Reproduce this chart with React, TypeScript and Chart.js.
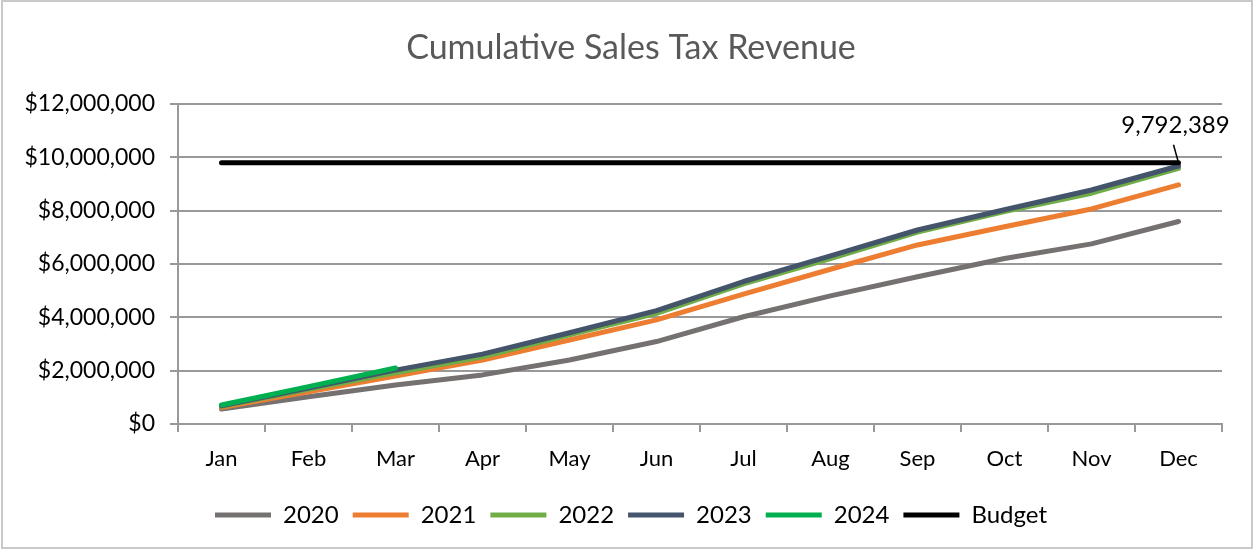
import React, { useEffect, useRef } from 'react';
import { Chart, registerables } from 'chart.js';

Chart.register(...registerables);

const months = ['Jan', 'Feb', 'Mar', 'Apr', 'May', 'Jun', 'Jul', 'Aug', 'Sep', 'Oct', 'Nov', 'Dec'];
const rev2020 = [560000, 1020000, 1460000, 1840000, 2400000, 3090000, 4020000, 4800000, 5520000, 6200000, 6750000, 7590000];
const rev2021 = [620000, 1210000, 1800000, 2400000, 3150000, 3900000, 4870000, 5800000, 6710000, 7390000, 8060000, 8960000];
const rev2022 = [660000, 1300000, 1920000, 2520000, 3340000, 4150000, 5250000, 6200000, 7190000, 7960000, 8650000, 9580000];
const rev2023 = [680000, 1350000, 2020000, 2620000, 3420000, 4250000, 5340000, 6300000, 7270000, 8030000, 8770000, 9670000];
const rev2024 = [710000, 1400000, 2100000, null, null, null, null, null, null, null, null, null];
const budgetValue = 9792389;
const budget = [9792389, 9792389, 9792389, 9792389, 9792389, 9792389, 9792389, 9792389, 9792389, 9792389, 9792389, 9792389];
const yTicks = [0, 2000000, 4000000, 6000000, 8000000, 10000000, 12000000];

const FONT = 'Lato';

const framePlugin = {
  id: 'frame',
  beforeDraw(chart: any) {
    const ctx = chart.ctx;
    ctx.save();
    ctx.fillStyle = '#ffffff';
    ctx.fillRect(0, 0, chart.width, chart.height);
    ctx.restore();
  },
  afterLayout(chart: any) {
    // let the y tick labels use the full left margin (avoid label clipping)
    const y = chart.scales.y;
    if (y) {
      y.left = 0;
      y.width = y.right;
    }
  },
  afterDraw(chart: any) {
    const ctx = chart.ctx;
    ctx.save();
    ctx.strokeStyle = '#C9C9C9';
    ctx.lineWidth = 2;
    ctx.strokeRect(2, 1, chart.width - 4, chart.height - 3);
    ctx.restore();
  },
};

const budgetLabelPlugin = {
  id: 'budgetLabel',
  afterDatasetsDraw(chart: any) {
    const idx = chart.data.datasets.findIndex((d: any) => d.label === 'Budget');
    if (idx < 0) return;
    const meta = chart.getDatasetMeta(idx);
    const pt = meta.data[meta.data.length - 1];
    if (!pt) return;
    const ctx = chart.ctx;
    ctx.save();
    ctx.strokeStyle = '#000';
    ctx.lineWidth = 1.5;
    ctx.beginPath();
    ctx.moveTo(pt.x - 5, pt.y - 18);
    ctx.lineTo(pt.x, pt.y);
    ctx.stroke();
    ctx.font = `24px ${FONT}`;
    ctx.fillStyle = '#000';
    ctx.textAlign = 'center';
    ctx.textBaseline = 'middle';
    ctx.fillText(budgetValue.toLocaleString('en-US'), pt.x - 3, pt.y - 37);
    ctx.restore();
  },
};

export default function App() {
  const canvasRef = useRef<HTMLCanvasElement | null>(null);

  useEffect(() => {
    let chart: Chart | null = null;
    let cancelled = false;
    const build = () => {
      if (cancelled || !canvasRef.current) return;
      const line = (label: string, data: any[], color: string, order: number) => ({
        label,
        data,
        borderColor: color,
        backgroundColor: color,
        borderWidth: 5,
        borderCapStyle: 'round',
        borderJoinStyle: 'round',
        pointRadius: 0,
        pointHoverRadius: 0,
        tension: 0,
        fill: false,
        order,
      });
      chart = new Chart(canvasRef.current, {
        type: 'line',
        data: {
          labels: months,
          datasets: [
            line('2020', rev2020, '#767171', 5),
            line('2021', rev2021, '#ED7D31', 4),
            line('2022', rev2022, '#70AD47', 3),
            line('2023', rev2023, '#44546A', 2),
            line('2024', rev2024, '#00B050', 1),
            line('Budget', budget, '#000000', 0),
          ] as any,
        },
        options: {
          responsive: false,
          animation: false,
          layout: { padding: { left: 40, right: 32, top: 0, bottom: 13 } },
          plugins: {
            title: {
              display: true,
              text: 'Cumulative Sales Tax Revenue',
              color: '#595959',
              font: { family: FONT, size: 34, weight: 'normal' },
              padding: { top: 28, bottom: 35 },
            },
            legend: {
              position: 'bottom',
              labels: {
                font: { family: FONT, size: 24 },
                color: '#000',
                boxWidth: 56,
                boxHeight: 5,
                padding: 14,
                generateLabels: (c: any) =>
                  c.data.datasets.map((ds: any, i: number) => ({
                    text: ds.label,
                    fillStyle: ds.borderColor,
                    strokeStyle: ds.borderColor,
                    lineWidth: 0,
                    hidden: false,
                    datasetIndex: i,
                    fontColor: '#000',
                  })),
              },
            },
            tooltip: { enabled: false },
          },
          scales: {
            x: {
              type: 'category',
              offset: true,
              afterFit: (s: any) => {
                s.height = 65;
              },
              grid: {
                offset: true,
                drawOnChartArea: false,
                drawTicks: true,
                tickLength: 8,
                color: '#999999',
                lineWidth: 2,
              },
              border: { display: true, color: '#999999', width: 2 },
              ticks: {
                font: { family: FONT, size: 22 },
                color: '#000',
                padding: 14,
                maxRotation: 0,
                autoSkip: false,
              },
            },
            y: {
              min: 0,
              max: 12000000,
              afterFit: (s: any) => {
                s.width = 138;
              },
              afterBuildTicks: (s: any) => {
                s.ticks = yTicks.map((v) => ({ value: v }));
              },
              grid: {
                color: '#999999',
                lineWidth: 2,
                drawTicks: true,
                tickLength: 8,
              },
              border: { display: true, color: '#999999', width: 2 },
              ticks: {
                font: { family: FONT, size: 23 },
                color: '#000',
                padding: 15,
                callback: (v: any) => '$' + Number(v).toLocaleString('en-US'),
              },
            },
          },
        } as any,
        plugins: [framePlugin, budgetLabelPlugin],
      });
    };
    const fonts: any = (document as any).fonts;
    if (fonts && fonts.load) {
      Promise.all([fonts.load(`21px ${FONT}`), fonts.load(`30px ${FONT}`)])
        .catch(() => null)
        .then(build);
    } else {
      build();
    }
    return () => {
      cancelled = true;
      if (chart) chart.destroy();
    };
  }, []);

  return (
    <div style={{ position: 'fixed', left: 0, top: 0, width: 1254, height: 550, background: '#fff' }}>
      <canvas ref={canvasRef} width={1254} height={550} style={{ display: 'block' }} />
    </div>
  );
}
